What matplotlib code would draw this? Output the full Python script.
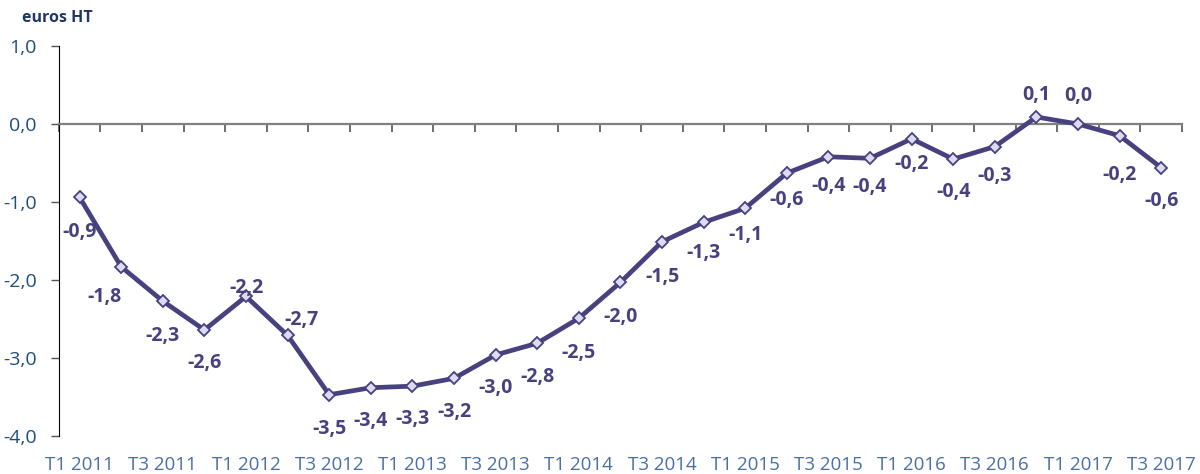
import matplotlib
matplotlib.use("Agg")
import matplotlib.pyplot as plt
from matplotlib.ticker import FuncFormatter

plt.rcParams['font.family'] = ['Open Sans', 'DejaVu Sans']

# trimestres T1 2011 -> T3 2017
trimestres = [f"T{q} {a}" for a in range(2011, 2018) for q in (1, 2, 3, 4)][:27]
valeurs = [-0.94, -1.83, -2.27, -2.64, -2.21, -2.71, -3.47, -3.38, -3.36, -3.26,
           -2.96, -2.81, -2.49, -2.03, -1.51, -1.26, -1.08, -0.63, -0.42, -0.44,
           -0.19, -0.45, -0.29, 0.09, 0.00, -0.15, -0.56]
etiquettes = ["-0,9", "-1,8", "-2,3", "-2,6", "-2,2", "-2,7", "-3,5", "-3,4", "-3,3", "-3,2",
              "-3,0", "-2,8", "-2,5", "-2,0", "-1,5", "-1,3", "-1,1", "-0,6", "-0,4", "-0,4",
              "-0,2", "-0,4", "-0,3", "0,1", "0,0", "-0,2", "-0,6"]
yticks = [1.0, 0.0, -1.0, -2.0, -3.0, -4.0]

# décalage des étiquettes en points (dx, dy)
decalages = [(0, -25), (-12, -22), (0, -25), (0, -24), (0, 6), (10, 11), (0, -25), (0, -24),
             (0, -24), (0, -24), (0, -24), (0, -24), (0, -25), (0, -25), (0, -25), (0, -22),
             (0, -19), (0, -19), (0, -21), (0, -21), (0, -18), (0, -24), (0, -21), (0, 16),
             (0, 20), (0, -28), (0, -24)]

violet = "#47427f"
fig = plt.figure(figsize=(12, 4.74), dpi=100)
ax = fig.add_axes([0.049, 0.080, 0.936, 0.823])

x = [i + 0.5 for i in range(len(valeurs))]
ax.plot(x, valeurs, color=violet, lw=3.4, marker="D", ms=6.5,
        mfc="#dcdcf0", mec=violet, mew=1.3, zorder=3)

for xi, v, lab, (dx, dy) in zip(x, valeurs, etiquettes, decalages):
    ax.annotate(lab, (xi, v), xytext=(dx, dy), textcoords="offset points",
                ha="center", va="center", fontsize=14, fontweight="bold", color=violet)

ax.set_xlim(0, 27)
ax.set_ylim(-4.0, 1.0)
ax.set_yticks(yticks)
ax.yaxis.set_major_formatter(FuncFormatter(lambda v, p: f"{v:.1f}".replace(".", ",")))
ax.tick_params(axis="y", direction="out", length=6, width=1, colors="#555555",
               labelcolor="#1f4e79", labelsize=14, pad=10)

for s in ("top", "right"):
    ax.spines[s].set_visible(False)
ax.spines["left"].set_color("black")
ax.spines["bottom"].set_position(("data", 0))
ax.spines["bottom"].set_color("#808080")
ax.spines["bottom"].set_linewidth(1.6)
ax.set_xticks(range(0, 28))
ax.set_xticklabels([])
ax.tick_params(axis="x", direction="out", length=6, width=1.2, color="#555555")

for i in range(0, len(trimestres), 2):
    ax.text(x[i], -0.074, trimestres[i], transform=ax.get_xaxis_transform(),
            ha="center", va="center", fontsize=13.5, color="#4a6fa5")

fig.text(0.018, 0.962, "euros HT", fontsize=11.5, fontweight="bold", color="#1f3864",
         va="center")

fig.savefig("out.png", dpi=100)
